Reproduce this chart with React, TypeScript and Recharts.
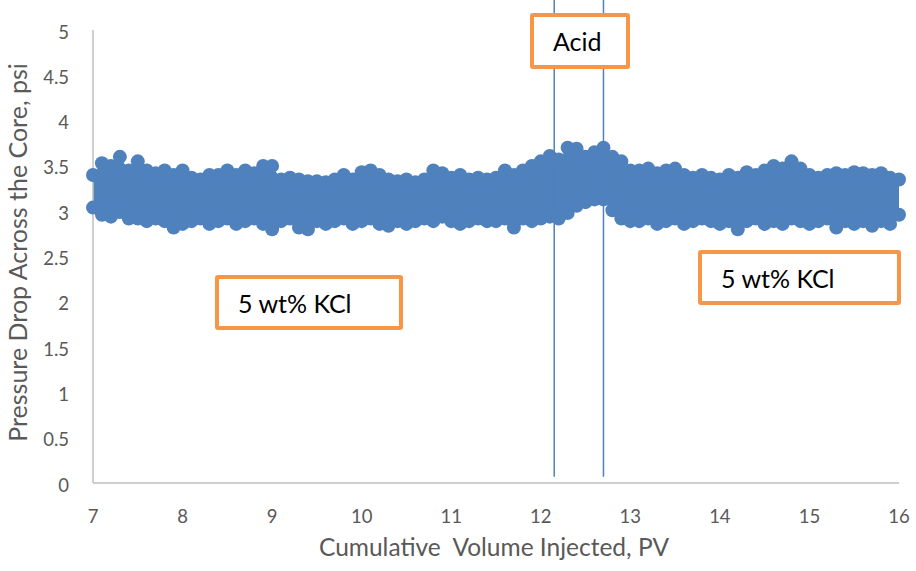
import {
  ComposedChart,
  Area,
  Scatter,
  XAxis,
  YAxis,
  ReferenceLine,
} from 'recharts';

// cumulative volume injected, PV (sampled every 0.1 PV)
const pv = [
  7.0, 7.1, 7.2, 7.3, 7.4, 7.5, 7.6, 7.7, 7.8, 7.9,
  8.0, 8.1, 8.2, 8.3, 8.4, 8.5, 8.6, 8.7, 8.8, 8.9,
  9.0, 9.1, 9.2, 9.3, 9.4, 9.5, 9.6, 9.7, 9.8, 9.9,
  10.0, 10.1, 10.2, 10.3, 10.4, 10.5, 10.6, 10.7, 10.8, 10.9,
  11.0, 11.1, 11.2, 11.3, 11.4, 11.5, 11.6, 11.7, 11.8, 11.9,
  12.0, 12.1, 12.2, 12.3, 12.4, 12.5, 12.6, 12.7, 12.8, 12.9,
  13.0, 13.1, 13.2, 13.3, 13.4, 13.5, 13.6, 13.7, 13.8, 13.9,
  14.0, 14.1, 14.2, 14.3, 14.4, 14.5, 14.6, 14.7, 14.8, 14.9,
  15.0, 15.1, 15.2, 15.3, 15.4, 15.5, 15.6, 15.7, 15.8, 15.9,
  16.0,
];

// upper readings of the pressure drop cloud, psi
const upperDp = [
  3.4, 3.53, 3.5, 3.6, 3.45, 3.55, 3.45, 3.42, 3.45, 3.4,
  3.45, 3.37, 3.35, 3.4, 3.4, 3.45, 3.4, 3.45, 3.42, 3.5,
  3.5, 3.35, 3.37, 3.35, 3.33, 3.33, 3.32, 3.35, 3.4, 3.35,
  3.43, 3.45, 3.4, 3.35, 3.33, 3.35, 3.32, 3.35, 3.45, 3.42,
  3.37, 3.4, 3.35, 3.37, 3.35, 3.37, 3.45, 3.4, 3.45, 3.5,
  3.55, 3.61, 3.57, 3.7, 3.69, 3.6, 3.65, 3.7, 3.6, 3.55,
  3.45, 3.45, 3.47, 3.42, 3.45, 3.47, 3.4, 3.37, 3.4, 3.37,
  3.35, 3.4, 3.37, 3.43, 3.4, 3.45, 3.5, 3.47, 3.55, 3.47,
  3.4, 3.37, 3.4, 3.42, 3.4, 3.43, 3.42, 3.4, 3.42, 3.37,
  3.35,
];

// lower readings of the pressure drop cloud, psi
const lowerDp = [
  3.04, 2.96, 2.94, 2.99, 2.92, 2.92, 2.89, 2.92, 2.89, 2.82,
  2.86, 2.89, 2.92, 2.86, 2.89, 2.92, 2.86, 2.89, 2.92, 2.86,
  2.8, 2.89, 2.92, 2.82, 2.8, 2.89, 2.86, 2.89, 2.92, 2.86,
  2.89, 2.92, 2.86, 2.84, 2.89, 2.86, 2.89, 2.92, 2.89, 2.94,
  2.89, 2.86, 2.89, 2.92, 2.89, 2.89, 2.92, 2.82, 2.92, 2.89,
  2.92, 2.94, 2.92, 2.98, 3.06, 3.1, 3.13, 3.13, 3.01, 2.92,
  2.89, 2.89, 2.92, 2.86, 2.89, 2.92, 2.86, 2.89, 2.92, 2.89,
  2.86, 2.89, 2.8, 2.89, 2.92, 2.86, 2.89, 2.86, 2.92, 2.89,
  2.86, 2.89, 2.92, 2.82, 2.89, 2.86, 2.89, 2.84, 2.89, 2.86,
  2.96,
];

// acid slug boundaries, PV
const acidStart = 12.15;
const acidEnd = 12.7;

const xTicks = [7, 8, 9, 10, 11, 12, 13, 14, 15, 16];
const yTicks = [0, 0.5, 1, 1.5, 2, 2.5, 3, 3.5, 4, 4.5, 5];

const BLUE = '#4f81bd';
const ORANGE = '#f79646';
const FONT = 'Lato, "Open Sans", sans-serif';

const bandData = pv.map((x, i) => ({ x, band: [lowerDp[i], upperDp[i]] }));
const upperPoints = pv.map((x, i) => ({ x, y: upperDp[i] }));
const lowerPoints = pv.map((x, i) => ({ x, y: lowerDp[i] }));

const Dot = (props: any) => <circle cx={props.cx} cy={props.cy} r={7} fill={BLUE} />;

const boxStyle: React.CSSProperties = {
  position: 'absolute',
  boxSizing: 'border-box',
  border: `4px solid ${ORANGE}`,
  borderRadius: 3,
  background: '#fff',
  fontFamily: FONT,
  fontSize: 25,
  color: '#000',
  display: 'flex',
  alignItems: 'center',
};

export default function App() {
  return (
    <div style={{ position: 'absolute', left: 0, top: 0, width: 916, height: 571, background: '#fff' }}>
      <ComposedChart
        width={916}
        height={571}
        data={bandData}
        margin={{ top: 30, right: 17, bottom: 0, left: 0 }}
      >
        <XAxis
          dataKey="x"
          type="number"
          domain={[7, 16]}
          ticks={xTicks}
          interval={0}
          height={88}
          tickLine={false}
          tickMargin={21}
          axisLine={{ stroke: '#bfbfbf', strokeWidth: 1.5 }}
          tick={{ fill: '#595959', fontSize: 18.5, fontFamily: FONT }}
          label={{
            content: ({ viewBox }: any) => (
              <text
                x={viewBox.x + viewBox.width / 2 - 2}
                y={viewBox.y + 73}
                textAnchor="middle"
                fill="#595959"
                fontSize={24.5}
                fontFamily={FONT}
              >
                {'Cumulative\u00a0 Volume Injected, PV'}
              </text>
            ),
          }}
        />
        <YAxis
          type="number"
          domain={[0, 5]}
          ticks={yTicks}
          interval={0}
          width={93}
          tickLine={false}
          tickMargin={18}
          axisLine={{ stroke: '#bfbfbf', strokeWidth: 1.5 }}
          tick={{ fill: '#595959', fontSize: 18.5, fontFamily: FONT, dy: 2 }}
          label={{
            content: ({ viewBox }: any) => {
              const cx = 27;
              const cy = viewBox.y + viewBox.height / 2 - 4;
              return (
                <text
                  x={cx}
                  y={cy}
                  transform={`rotate(-90, ${cx}, ${cy})`}
                  textAnchor="middle"
                  fill="#595959"
                  fontSize={25}
                  fontFamily={FONT}
                >
                  Pressure Drop Across the Core, psi
                </text>
              );
            },
          }}
        />
        <Area
          dataKey="band"
          type="linear"
          stroke="none"
          fill={BLUE}
          fillOpacity={1}
          isAnimationActive={false}
        />
        <Scatter data={upperPoints} dataKey="y" shape={Dot} isAnimationActive={false} />
        <Scatter data={lowerPoints} dataKey="y" shape={Dot} isAnimationActive={false} />
        <ReferenceLine
          segment={[{ x: acidStart, y: 0.07 }, { x: acidStart, y: 5.33 }]}
          stroke={BLUE}
          strokeWidth={1.5}
          ifOverflow="visible"
        />
        <ReferenceLine
          segment={[{ x: acidEnd, y: 0.07 }, { x: acidEnd, y: 5.33 }]}
          stroke={BLUE}
          strokeWidth={1.5}
          ifOverflow="visible"
        />
      </ComposedChart>

      <div style={{ ...boxStyle, left: 530, top: 13, width: 100, height: 56, paddingLeft: 19 }}>Acid</div>
      <div style={{ ...boxStyle, left: 215, top: 275, width: 188, height: 55, paddingLeft: 19 }}>5 wt% KCl</div>
      <div style={{ ...boxStyle, left: 698, top: 250, width: 203, height: 55, paddingLeft: 19 }}>5 wt% KCl</div>
    </div>
  );
}
